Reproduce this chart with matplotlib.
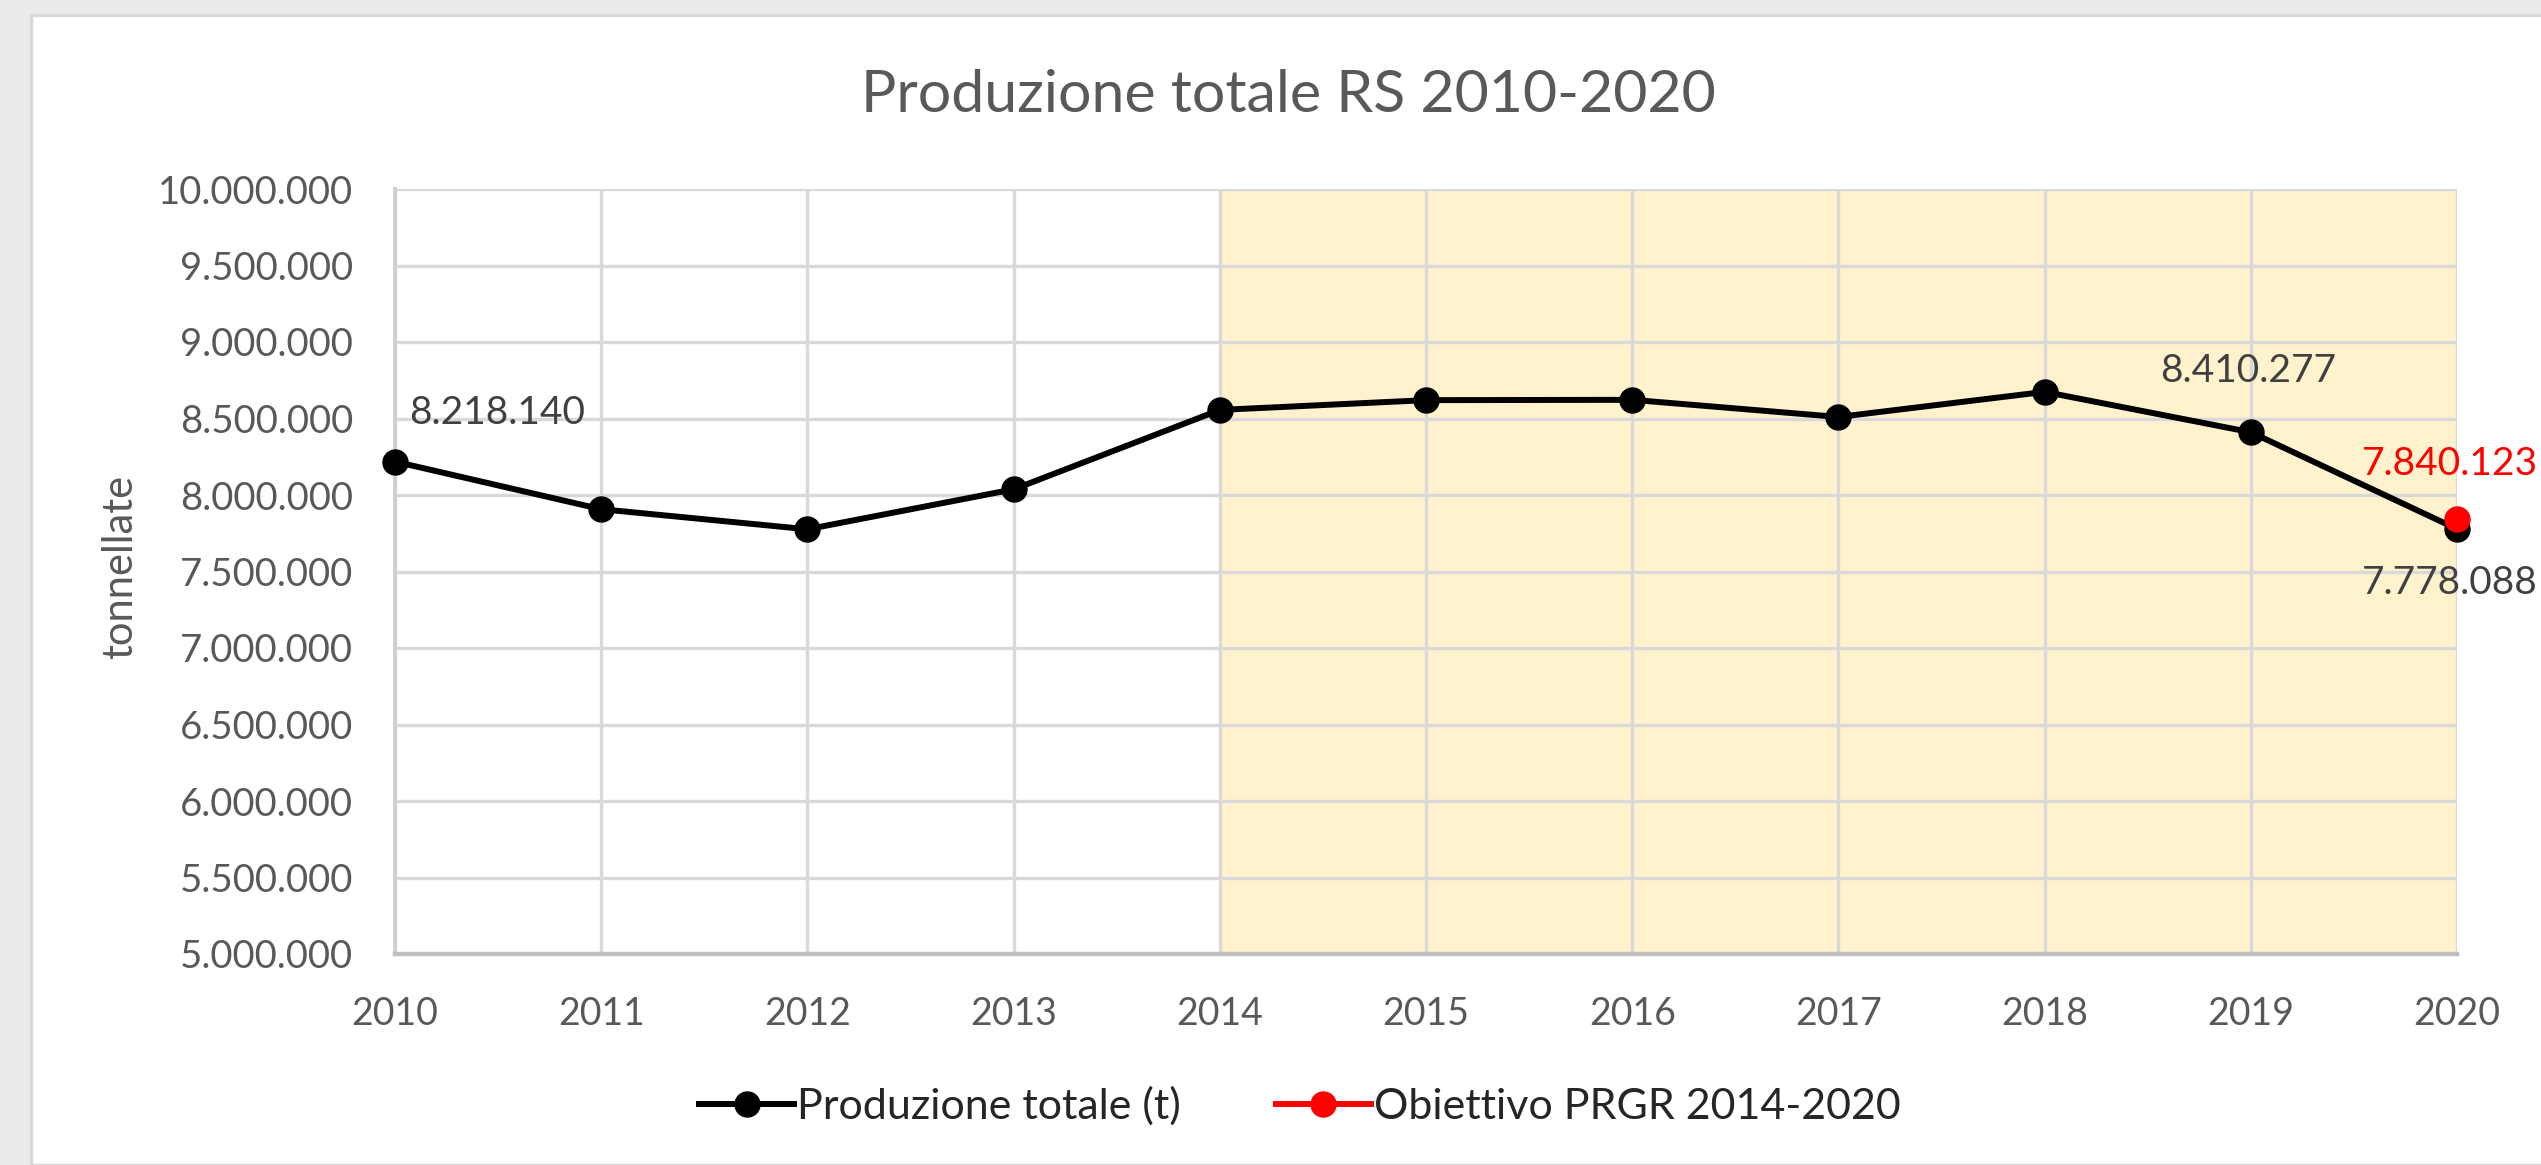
import matplotlib
matplotlib.use("Agg")
import matplotlib.pyplot as plt
from matplotlib.patches import Rectangle

plt.rcParams['font.family'] = ['Lato', 'DejaVu Sans']

# ---- data ----
years = [2010, 2011, 2012, 2013, 2014, 2015, 2016, 2017, 2018, 2019, 2020]
production = [8218140, 7907000, 7776000, 8037000, 8556000, 8620000, 8622000,
              8510000, 8674000, 8410277, 7778088]
target_years = [2020]
target_values = [7840123]
labelled_years = [2010, 2019, 2020]
shade_range = [2014, 2020]
y_ticks = [5000000, 5500000, 6000000, 6500000, 7000000, 7500000, 8000000,
           8500000, 9000000, 9500000, 10000000]
y_tick_labels = ['5.000.000', '5.500.000', '6.000.000', '6.500.000', '7.000.000',
                 '7.500.000', '8.000.000', '8.500.000', '9.000.000', '9.500.000',
                 '10.000.000']
title = 'Produzione totale RS 2010-2020'
y_label = 'tonnellate'
series_names = ['Produzione totale (t)', 'Obiettivo PRGR 2014-2020']


def it_fmt(v):
    return f"{v:,.0f}".replace(",", ".")


W, H = 2541, 1165
fig = plt.figure(figsize=(W / 100, H / 100), dpi=100)
fig.patch.set_facecolor('#EBEBEB')
# white chart area with subtle border
bg = Rectangle((31 / W, 0), 1, 1 - 15 / H, transform=fig.transFigure,
               facecolor='white', edgecolor='#D9D9D9', linewidth=2.5, zorder=-10)
fig.patches.append(bg)

ax = fig.add_axes([395 / W, 1 - 954 / H, (2457 - 395) / W, (954 - 189) / H])
ax.set_zorder(2)
ax.set_facecolor('white')

ax.axvspan(shade_range[0], shade_range[1], color='#FFF2CC', zorder=0, linewidth=0)

ax.set_xlim(years[0], years[-1])
ax.set_ylim(y_ticks[0], y_ticks[-1])
ax.set_xticks(years)
ax.set_xticklabels([str(y) for y in years])
ax.set_yticks(y_ticks)
ax.set_yticklabels(y_tick_labels)

ax.grid(True, color='#D9D9D9', linewidth=2.4, zorder=1)
ax.set_axisbelow(True)
for side in ['top', 'right']:
    ax.spines[side].set_visible(False)
ax.spines['left'].set_color('#D0D0D0')
ax.spines['left'].set_linewidth(2.8)
ax.spines['bottom'].set_color('#BFBFBF')
ax.spines['bottom'].set_linewidth(3.2)
ax.tick_params(axis='both', length=0, colors='#595959')
ax.tick_params(axis='y', pad=30, labelsize=27.5)
ax.tick_params(axis='x', pad=30, labelsize=27)

ax.plot(years, production, color='black', linewidth=4.3, marker='o',
        markersize=18, zorder=4, clip_on=False, label=series_names[0])
ax.plot(target_years, target_values, color='red', linewidth=4.3, marker='o',
        markersize=18, linestyle='-', zorder=5, clip_on=False, label=series_names[1])

# data labels
LBL = 28
for yr, val in zip(years, production):
    if yr not in labelled_years:
        continue
    if yr == years[0]:
        ax.annotate(it_fmt(val), (yr, val), xytext=(10, 22), textcoords='offset points',
                    ha='left', va='bottom', fontsize=LBL, color='#404040', zorder=6)
    elif yr == years[-1]:
        ax.annotate(it_fmt(val), (yr, val), xytext=(-5, -26), textcoords='offset points',
                    ha='center', va='top', fontsize=LBL, color='#404040', zorder=6,
                    annotation_clip=False)
    else:
        ax.annotate(it_fmt(val), (yr, val), xytext=(-2, 31), textcoords='offset points',
                    ha='center', va='bottom', fontsize=LBL, color='#404040', zorder=6)
for yr, val in zip(target_years, target_values):
    ax.annotate(it_fmt(val), (yr, val), xytext=(-5, 27), textcoords='offset points',
                ha='center', va='bottom', fontsize=LBL, color='#FF0000', zorder=6,
                annotation_clip=False)

fig.text(1288 / W, 1 - 112 / H, title, ha='center', va='baseline', fontsize=42.5,
         color='#595959')
fig.text(120 / W, 1 - 567 / H, y_label, ha='center', va='center', rotation=90,
         fontsize=30, color='#595959')

handles, labels = ax.get_legend_handles_labels()
leg = fig.legend(handles, labels, loc='center', bbox_to_anchor=(1300 / W, 1 - 1106 / H),
                 ncol=2, frameon=False, fontsize=31, handlelength=2.2,
                 handletextpad=0.08, columnspacing=2.2, borderaxespad=0)
for t in leg.get_texts():
    t.set_color('#262626')

fig.savefig('out.png', dpi=100, facecolor=fig.get_facecolor())
